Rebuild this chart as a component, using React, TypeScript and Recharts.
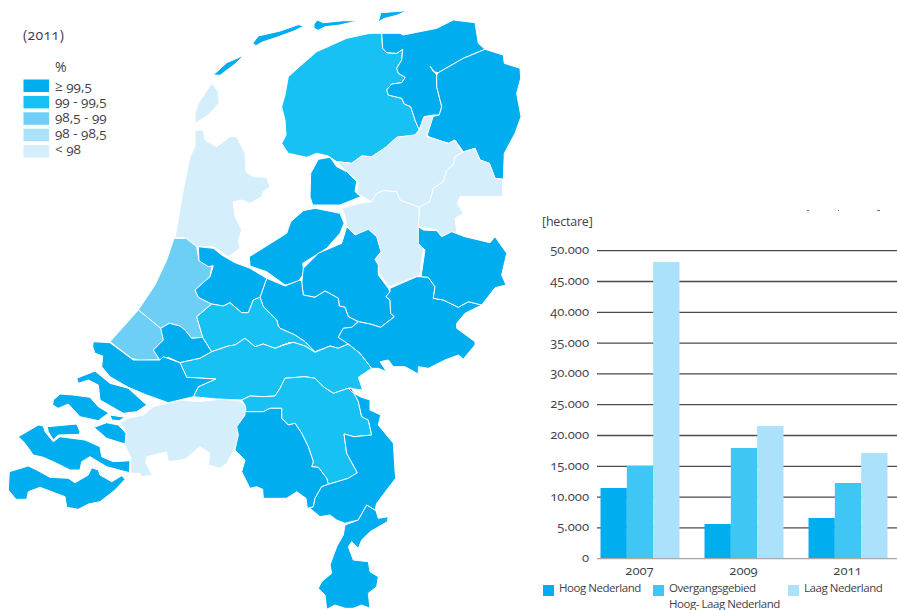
import React from 'react';
import { BarChart, Bar, XAxis, YAxis, CartesianGrid, Customized, Legend } from 'recharts';

const FONT = '"Open Sans", sans-serif';
const TEXT = '#3f3f48';
const NUM: React.CSSProperties = { fontFeatureSettings: '"onum"' };

// bar chart data
const years = ['2007', '2009', '2011'];
const hoog = [11470, 5630, 6600];
const overgang = [15040, 17970, 12280];
const laag = [48160, 21540, 17150];
const valueTicks = [0, 5000, 10000, 15000, 20000, 25000, 30000, 35000, 40000, 45000, 50000];
const gridValues = valueTicks.slice(1);
const tickLabels = ['0', '5.000', '10.000', '15.000', '20.000', '25.000', '30.000', '35.000', '40.000', '45.000', '50.000'];
const rows = years.map((year, i) => ({ year, hoog: hoog[i], overgang: overgang[i], laag: laag[i] }));

// map legend
const classLabels = ['≥ 99,5', '99 - 99,5', '98,5 - 99', '98 - 98,5', '< 98'];
const classColors = ['#00aeef', '#17c1f4', '#6dcff6', '#abe1fa', '#d5eefb'];

// traced outlines: [class, [origin x, origin y, points at 3x]...]
type Part = [number, number, string];
const Z3: [number, number] = [170, 0];
const Z4: [number, number] = [0, 300];
const Z5: [number, number] = [230, 290];
const Z6: [number, number] = [100, 220];
const Z7: [number, number] = [280, 220];
const p = (o: [number, number], s: string): Part => [o[0], o[1], s];

const regions: [number, Part[]][] = [
  [4, [p(Z3, '125,250 145,275 147,310 115,345 75,370 75,340 85,310 105,280')]],
  [0, [p(Z3, '130,225 170,188 222,166 195,192 150,226')]],
  [0, [p(Z3, '248,130 265,108 330,93 385,74 402,78 370,94 320,112 275,127 258,137')]],
  [0, [p(Z3, '432,72 442,60 460,68 520,62 565,62 510,75 465,80 445,91 432,85')]],
  [0, [p(Z3, '625,67 632,38 712,32 680,46 640,56')]],
  [1, [p(Z3, '335,430 348,405 345,360 335,320 345,285 355,230 400,190 440,155 530,115 600,100 635,100 638,145 650,158 680,160 698,148 695,180 680,205 685,220 706,232 695,248 665,252 650,270 655,285 695,295 703,312 722,320 735,360 748,390 735,405 680,412 650,440 605,470 575,468 545,490 500,485 475,468 440,460 410,472 355,460')]],
  [0, [p(Z3, '635,100 690,100 700,105 800,85 850,60 915,68 925,130 945,148 880,175 805,218 790,215 780,198 800,225 800,260 815,320 808,345 790,345 762,350 748,390 735,360 722,320 703,312 695,295 655,285 650,270 665,252 695,248 706,232 685,220 680,205 695,180 698,148 680,160 650,158 638,145')]],
  [0, [p(Z3, '945,148 1000,165 1003,190 1050,205 1052,235 1040,280 1053,350 1035,400 1003,460 1000,538 975,535 958,490 930,480 915,445 880,455 855,420 835,430 780,412 770,405 785,350 808,345 815,320 800,260 800,225 805,218 880,175')]],
  [4, [p(Z3, '500,485 545,490 575,468 605,470 650,440 680,412 735,405 748,390 762,350 790,348 770,410 835,430 855,420 875,458 855,470 850,495 830,510 820,545 790,565 780,605 748,622 690,600 680,575 640,572 620,580 605,605 570,585 560,575 565,545 525,510')]],
  [4, [p(Z3, '875,458 915,445 930,480 958,490 975,535 998,538 998,590 870,590 862,610 880,640 855,655 860,695 815,712 800,690 745,680 748,622 780,605 790,565 820,545 830,510 850,495 855,470')]],
  [4, [p(Z3, '515,625 570,610 605,605 620,580 640,572 680,575 690,600 748,622 745,680 745,690 763,740 755,780 750,825 660,860 650,850 625,815 612,775 632,750 620,710 590,690 565,705 548,700 530,680 525,645')]],
  [4, [p(Z3, '75,390 100,390 105,420 140,440 180,410 200,410 225,460 228,515 250,530 290,532 300,560 280,575 275,590 240,610 215,600 190,605 195,650 215,690 205,720 210,745 175,770 130,740 80,740 45,713 15,713 40,570 60,470 75,440')]],
  [0, [p(Z3, '428,615 420,590 422,520 445,478 480,472 500,500 530,515 560,545 555,575 572,590 510,615')]],
  [0, [p(Z3, '238,770 350,700 362,665 400,632 435,625 510,640 522,670 510,700 470,745 430,770 398,790 402,820 385,845 345,855 290,815 240,798')]],
  [0, [p(Z7, '65,190 70,145 115,100 185,70 200,20 225,45 265,28 290,50 303,95 285,118 295,135 295,165 325,205 330,215 318,230 330,240 332,280 343,290 302,322 270,312 235,305 205,290 195,262 178,258 175,235 145,218 135,213 105,232 70,225')]],
  [0, [p(Z6, '500,175 555,198 600,180'), p(Z7, '65,185 70,225 105,232 135,213 145,218 175,235 178,258 195,262 205,290 235,305 215,322 190,325 175,352 210,370 175,385 150,378 105,395 75,365 45,345 0,325'), p(Z6, '535,318 530,300 490,260 480,232')]],
  [2, [p(Z6, '222,55 258,55 290,80 297,122 335,140 330,170 285,210 295,232 335,252 290,290 308,352 275,355 240,318 208,310 182,325 115,270 165,195 200,120')]],
  [2, [p(Z6, '115,270 182,325 195,340 190,360 160,390 178,418 120,422 95,415 30,365')]],
  [0, [p(Z6, '295,80 340,85 365,105 405,128 450,145 500,175 480,232 460,240 445,278 425,278 390,248 370,258 335,252 295,232 285,210 330,170 340,137 325,140 297,122')]],
  [0, [p(Z6, '208,310 240,318 255,330 275,355 308,352 335,395 300,415 240,428 205,412 190,418 178,418 160,390 190,360 182,325')]],
  [1, [p(Z6, '335,252 370,258 390,248 425,278 445,278 460,240 480,232 490,260 530,300 535,318'), p(Z7, '0,325 45,345 75,365 105,397 75,378 40,367 0,378'), p(Z6, '570,368 525,385 490,372 465,380 435,355 405,375 385,378 335,395 308,352 290,290')]],
  [1, [p(Z6, '240,428 300,415 335,395 385,378 405,375 435,355 465,380 490,372 525,385 570,368'), p(Z7, '0,378 40,367 75,378 105,397 150,378 175,385 205,372 240,400 275,445'), p(Z5, '385,262 398,300 355,295 310,310 280,290 255,265 225,260 200,262 165,265 150,295 135,318 100,320 60,318 35,330'), p(Z4, '650,297 580,290 595,260 647,237 560,232 540,190')]],
  [1, [p(Z5, '35,330 60,318 100,320 135,318 150,295 165,265 200,262 225,260 255,265 280,290 310,310 355,295 365,295 385,335 395,380 415,390 425,435 372,440 342,432 350,490 382,548 355,565 295,583 290,565 265,532 245,530 250,515 235,470 215,430 195,400 175,405 155,385 155,355 120,355 100,365 45,365 45,345')]],
  [4, [p(Z4, '460,320 540,300 600,305 660,298 720,302 737,320 737,350 715,385 718,410 708,440 680,490 660,505 625,495 630,460 600,440 555,478 505,485 500,455 440,470 437,490 457,525 425,530 420,520 392,520 392,470 372,432 378,400 362,368 385,355 430,345')]],
  [0, [p(Z5, '45,365 100,365 120,355 155,355 155,385 175,405 195,400 215,430 235,470 250,515 245,530 265,532 290,565 295,583 275,590 255,625 250,650 232,655 228,625 200,605 170,625 100,625 98,598 80,590 60,595 35,545 45,510 15,480 25,435 20,410 45,375')]],
  [0, [p(Z5, '295,583 355,565 382,548 350,490 342,432 372,440 425,435 415,390 395,380 385,335 365,295 355,295 365,305 390,320 420,330 420,360 452,375 445,405 490,460 495,540 497,565 470,600 440,640 435,660 410,645 385,690 345,700 320,690 300,675 270,680 240,655 250,650 255,625 275,590')]],
  [0, [p(Z5, '345,705 385,690 410,645 438,662 445,685 475,680 472,695 420,725 395,750 385,775 365,755 355,770 370,810 415,815 420,845 445,860 440,890 415,910 420,955 395,945 370,955 345,955 315,945 290,958 285,915 265,895 275,875 305,850 300,825 320,770 340,735')]],
  [0, [p(Z7, '330,205 410,170 423,170 445,172 465,200 460,235 490,240 535,262 565,245 605,255 555,280 530,310 530,325 585,365 585,375 550,417 535,405 495,420 445,445 415,440 415,462 375,440 340,440 325,420 300,425 320,455 295,445 275,445 240,400 205,372 175,352 190,325 215,322 235,305 270,312 302,322 343,290 332,280 330,240 318,230 330,215')]],
  [0, [p(Z7, '415,20 430,30 470,32 485,50 515,35 555,50 630,68 645,50 680,100 665,165 678,195 645,203 605,255 565,245 535,262 490,240 460,235 465,200 445,172 423,170 435,90 415,70')]],
  [0, [p(Z4, '280,125 330,128 400,180 480,180 490,170 540,188 560,232 647,237 595,260 580,290 505,308 440,285 385,262 330,230 305,200 308,168 285,160 278,140')]],
  [0, [p(Z4, '230,235 285,213 330,250 385,265 440,315 410,335 370,340 300,300 295,255 265,240 235,250')]],
  [0, [p(Z4, '160,300 180,282 220,285 270,292 295,320 320,335 325,340 295,362 240,350 205,312 175,325 158,315')]],
  [0, [p(Z4, '330,345 375,352 358,362 335,360')]],
  [0, [p(Z4, '282,382 320,368 355,375 378,400 375,432 320,415')]],
  [0, [p(Z4, '142,380 230,372 240,395 238,403 175,405 160,420 145,395')]],
  [0, [p(Z4, '55,410 115,375 130,378 135,395 160,425 180,410 255,420 300,440 305,470 340,485 390,482 388,518 320,500 270,470 245,485 240,510 210,510 170,490 130,472 100,465 75,430')]],
  [0, [p(Z4, '28,515 85,498 110,510 150,532 205,535 225,548 265,525 275,503 295,510 300,525 335,545 365,527 375,538 345,570 300,605 265,612 235,628 200,622 195,590 120,562 85,575 80,598 48,598 25,570')]],
];

const toPoints = (parts: Part[]) =>
  parts
    .map(([ox, oy, s]) =>
      s.split(' ').map((q) => {
        const [x, y] = q.split(',').map(Number);
        return `${(ox + x / 3).toFixed(1)},${(oy + y / 3).toFixed(1)}`;
      }).join(' ')
    )
    .join(' ');

const MapLayer = () => (
  <g fontFamily={FONT} fill={TEXT}>
    {regions.map(([c, parts], i) => (
      <polygon key={i} points={toPoints(parts)} fill={classColors[c]} stroke="#ffffff" strokeWidth={1} strokeLinejoin="round" />
    ))}
    <text x={23} y={40} fontSize={14} letterSpacing={0.4} style={NUM}>(2011)</text>
    <text x={55} y={72} fontSize={14}>%</text>
    {classLabels.map((label, i) => (
      <g key={label}>
        <rect x={23.5} y={79.5 + i * 16.4} width={25.5} height={12.5} fill={classColors[i]} />
        <text x={55} y={90.5 + i * 15.8} fontSize={13.5} style={NUM}>{label}</text>
      </g>
    ))}
    <text x={542} y={226} fontSize={12.5} letterSpacing={-0.2}>[hectare]</text>
    <rect x={807} y={210} width={2} height={1} fill="#777" />
    <rect x={838} y={210} width={1} height={1} fill="#777" />
    <rect x={877} y={210} width={3} height={1} fill="#777" />
  </g>
);

const legendEntries = [
  { name: ['Hoog Nederland'], color: '#00aeef', left: 543 },
  { name: ['Overgangsgebied', 'Hoog- Laag Nederland'], color: '#40c6f4', left: 653 },
  { name: ['Laag Nederland'], color: '#abe1fa', left: 788 },
];

const BarLegend = () => (
  <div style={{ position: 'relative', fontFamily: FONT, fontSize: 11.5, letterSpacing: -0.45, color: TEXT }}>
    {legendEntries.map((e) => (
      <div key={e.left} style={{ position: 'absolute', left: e.left, top: 585, whiteSpace: 'nowrap' }}>
        <div style={{ position: 'absolute', left: 0, top: 0, width: 11, height: 11, background: e.color }} />
        {e.name.map((line, i) => (
          <div key={line} style={{ position: 'absolute', left: 16, top: -5 + i * 15.5, lineHeight: '16px' }}>{line}</div>
        ))}
      </div>
    ))}
  </div>
);

const YTick = ({ x, y, payload }: any) => (
  <text x={x} y={y + 3.5} textAnchor="end" fontFamily={FONT} fontSize={13} fill={TEXT} style={NUM}>
    {tickLabels[valueTicks.indexOf(payload.value)]}
  </text>
);

const XTick = ({ x, y, payload }: any) => (
  <text x={x} y={y + 8} textAnchor="middle" fontFamily={FONT} fontSize={13} fill={TEXT} style={NUM}>
    {payload.value}
  </text>
);

export default function App() {
  return (
    <div style={{ position: 'absolute', left: 0, top: 0, width: 897, height: 610, overflow: 'hidden', background: '#fff' }}>
      <BarChart
        width={897}
        height={610}
        data={rows}
        margin={{ top: 250.7, right: 0, bottom: 21.3, left: 537 }}
        barSize={26.33}
        barGap={0}
      >
        <CartesianGrid horizontal vertical={false} horizontalValues={gridValues} stroke="#4a4a55" strokeWidth={1.3} />
        <XAxis dataKey="year" height={30} tickLine={false} axisLine={{ stroke: '#a8a8a8', strokeWidth: 1.3 }} padding={{ left: -9.5, right: -2.5 }} tick={<XTick />} interval={0} />
        <YAxis width={60} domain={[0, 50000]} ticks={valueTicks} tickLine={false} axisLine={false} tick={<YTick />} interval={0} />
        <Bar dataKey="hoog" name="Hoog Nederland" fill="#00aeef" isAnimationActive={false} />
        <Bar dataKey="overgang" name="Overgangsgebied Hoog- Laag Nederland" fill="#40c6f4" isAnimationActive={false} />
        <Bar dataKey="laag" name="Laag Nederland" fill="#abe1fa" isAnimationActive={false} />
        <Customized component={<MapLayer />} />
        <Legend verticalAlign="bottom" wrapperStyle={{ position: 'absolute', left: 0, top: 0, width: 897, height: 0 }} content={<BarLegend />} />
      </BarChart>
    </div>
  );
}
